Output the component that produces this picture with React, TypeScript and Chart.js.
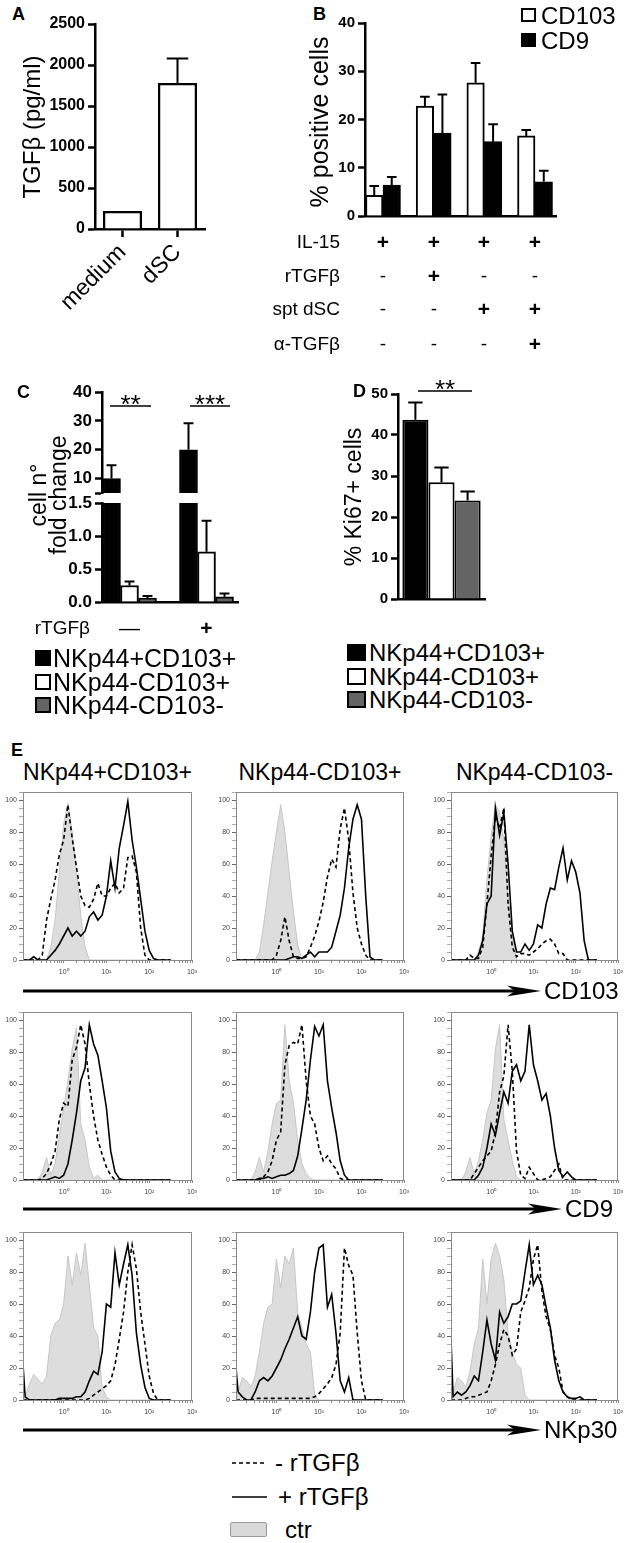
import React, { FC, useEffect, useRef } from "react";
import Chart from "chart.js/auto";

const FONT = '"Liberation Sans", Arial, Helvetica, sans-serif';
Chart.defaults.font.family = FONT;
Chart.defaults.color = "#000";

// ---------- panel A : TGFb in supernatant
const A_CATEGORIES = ["medium", "dSC"];
const A_TGFB = [220, 1780];
const A_TGFB_ERR = [0, 300];
const A_TICKS = [0, 500, 1000, 1500, 2000, 2500];

// ---------- panel B : % positive cells
const B_CONDITIONS = [0, 1, 2, 3];
const B_CD103 = [4.3, 22.8, 27.6, 16.6];
const B_CD103_ERR = [1.9, 1.9, 4.1, 1.2];
const B_CD9 = [6.4, 17.2, 15.4, 7.1];
const B_CD9_ERR = [1.7, 8.0, 3.6, 2.3];
const B_TICKS = [0, 10, 20, 30, 40];
const B_ROW_LABELS = ["IL-15", "rTGFβ", "spt dSC", "α-TGFβ"];
const B_ROW_SIGNS = [
  ["+", "+", "+", "+"],
  ["-", "+", "-", "-"],
  ["-", "-", "+", "+"],
  ["-", "-", "-", "+"],
];

// ---------- panels C and D : NK subsets
const SUBSETS = ["NKp44+CD103+", "NKp44-CD103+", "NKp44-CD103-"];
const SUBSET_COLORS = ["#000000", "#ffffff", "#646464"];
const C_TREATMENT = ["—", "+"];
const C_DP = [10, 20];
const C_DP_ERR = [4.6, 9.2];
const C_SP = [0.25, 0.76];
const C_SP_ERR = [0.06, 0.47];
const C_DN = [0.06, 0.08];
const C_DN_ERR = [0.03, 0.05];
const C_UPPER_TICKS = [5, 10, 20, 30, 40];
const C_LOWER_TICKS = [0, 0.5, 1, 1.5];
const D_KI67 = [43.7, 28.5, 24.0];
const D_KI67_ERR = [4.2, 3.6, 2.2];
const D_TICKS = [0, 10, 20, 30, 40, 50];

// ---------- panel E : histograms (log10 of fluorescence, % of max)
const E_SUBSETS = ["NKp44+CD103+", "NKp44-CD103+", "NKp44-CD103-"];
const E_MARKERS = ["CD103", "CD9", "NKp30"];
const LOG_X = [-0.95, -0.9, -0.8, -0.7, -0.6, -0.5, -0.4, -0.3, -0.2, -0.1, 0, 0.1, 0.2, 0.3, 0.4, 0.5, 0.6, 0.7, 0.8, 0.9, 1, 1.1, 1.2, 1.3, 1.4, 1.5, 1.6, 1.7, 1.8, 1.9, 2, 2.1, 2.2, 2.3, 2.4, 2.5];
const DECADES = [1, 10, 100, 1000];
const DECADE_LABELS = ["10⁰", "10¹", "10²", "10³"];
const HIST_X_TICKS = [0.2, 0.3, 0.4, 0.5, 0.6, 0.7, 0.8, 0.9, 1, 2, 3, 4, 5, 6, 7, 8, 9, 10, 20, 30, 40, 50, 60, 70, 80, 90, 100, 200, 300, 400, 500, 600, 700, 800, 900, 1000];
const HIST_Y_TICKS = [0, 5, 10, 15, 20, 25, 30, 35, 40, 45, 50, 55, 60, 65, 70, 75, 80, 85, 90, 95, 100, 105];

const H11_CTR = [0, 0, 0, 0, 0, 0, 0, 8, 25, 55, 85, 98, 80, 55, 28, 8, 0, 0, 0, 0, 0, 0, 0, 0, 0, 0, 0, 0, 0, 0, 0, 0, 0, 0, 0, 0];
const H11_MINUS = [0, 0, 0, 0, 0, 3, 25, 38, 50, 66, 75, 97, 76, 58, 40, 34, 33, 38, 48, 40, 40, 45, 48, 42, 45, 64, 65, 55, 20, 3, 0, 0, 0, 0, 0, 0];
const H11_PLUS = [0, 0, 0, 2, 0, 0, 0, 3, 6, 10, 15, 20, 15, 18, 15, 18, 27, 30, 25, 28, 40, 62, 45, 70, 84, 99, 75, 58, 38, 18, 6, 1, 0, 0, 0, 0];

const H12_CTR = [0, 0, 0, 0, 0, 0, 5, 22, 42, 62, 80, 97, 80, 55, 30, 10, 0, 0, 0, 0, 0, 0, 0, 0, 0, 0, 0, 0, 0, 0, 0, 0, 0, 0, 0, 0];
const H12_MINUS = [0, 0, 0, 0, 0, 0, 0, 0, 0, 0, 3, 12, 27, 12, 2, 1, 1, 2, 8, 15, 24, 36, 52, 63, 58, 82, 95, 75, 42, 20, 10, 3, 0, 0, 0, 0];
const H12_PLUS = [0, 0, 0, 0, 0, 0, 0, 0, 0, 0, 0, 0, 0, 1, 2, 2, 1, 3, 5, 2, 5, 5, 5, 8, 18, 28, 45, 70, 88, 97, 88, 40, 2, 0, 0, 0];

const H13_CTR = [0, 0, 0, 0, 0, 0, 0, 5, 15, 50, 78, 97, 92, 75, 40, 15, 0, 0, 0, 0, 0, 0, 0, 0, 0, 0, 0, 0, 0, 0, 0, 0, 0, 0, 0, 0];
const H13_MINUS = [0, 0, 0, 0, 0, 3, 1, 1, 8, 35, 65, 90, 82, 95, 35, 8, 2, 4, 4, 3, 5, 7, 10, 12, 13, 10, 4, 4, 0, 0, 0, 0, 0, 0, 0, 0];
const H13_PLUS = [0, 0, 0, 0, 0, 0, 0, 3, 12, 35, 40, 95, 78, 92, 60, 18, 5, 5, 10, 6, 10, 22, 20, 35, 45, 44, 58, 70, 50, 62, 55, 42, 12, 0, 0, 0];

const H21_CTR = [0, 0, 0, 0, 0, 5, 14, 3, 10, 28, 45, 62, 82, 95, 35, 25, 8, 1, 3, 0, 0, 0, 0, 0, 0, 0, 0, 0, 0, 0, 0, 0, 0, 0, 0, 0];
const H21_MINUS = [0, 0, 0, 0, 0, 1, 4, 10, 18, 38, 48, 46, 75, 83, 97, 85, 60, 40, 25, 16, 8, 3, 0, 0, 0, 0, 0, 0, 0, 0, 0, 0, 0, 0, 0, 0];
const H21_PLUS = [0, 0, 0, 0, 0, 0, 0, 1, 2, 1, 3, 10, 25, 42, 62, 70, 97, 85, 78, 62, 45, 18, 5, 1, 0, 0, 0, 0, 0, 0, 0, 0, 0, 0, 0, 0];

const H22_CTR = [0, 0, 0, 0, 0, 5, 14, 5, 18, 35, 48, 50, 97, 62, 48, 25, 10, 4, 1, 0, 0, 0, 0, 0, 0, 0, 0, 0, 0, 0, 0, 0, 0, 0, 0, 0];
const H22_MINUS = [0, 0, 0, 0, 0, 0, 0, 2, 5, 12, 25, 30, 72, 84, 86, 85, 97, 62, 40, 35, 20, 12, 15, 10, 7, 1, 0, 0, 0, 0, 0, 0, 0, 0, 0, 0];
const H22_PLUS = [0, 0, 0, 0, 0, 0, 1, 1, 2, 1, 2, 3, 3, 4, 6, 15, 32, 50, 75, 96, 90, 97, 62, 45, 30, 12, 3, 0, 0, 0, 0, 0, 0, 0, 0, 0];

const H23_CTR = [0, 0, 0, 0, 5, 14, 3, 12, 25, 42, 50, 82, 97, 38, 25, 12, 2, 0, 0, 0, 0, 0, 0, 0, 0, 0, 0, 0, 0, 0, 0, 0, 0, 0, 0, 0];
const H23_MINUS = [0, 0, 0, 0, 0, 0, 4, 8, 12, 15, 18, 30, 55, 65, 97, 68, 18, 3, 1, 8, 4, 0, 0, 1, 2, 6, 10, 0, 0, 0, 0, 0, 0, 0, 0, 0];
const H23_PLUS = [0, 0, 0, 0, 0, 0, 0, 3, 8, 20, 35, 28, 42, 55, 48, 68, 72, 62, 68, 97, 72, 62, 50, 54, 40, 20, 6, 2, 5, 2, 0, 0, 0, 0, 0, 0];

const H31_CTR = [0, 2, 10, 16, 13, 10, 15, 40, 48, 50, 60, 90, 72, 92, 78, 98, 72, 45, 40, 8, 2, 0, 0, 0, 0, 0, 0, 0, 0, 0, 0, 0, 0, 0, 0, 0];
const H31_MINUS = [0, 0, 0, 0, 0, 0, 0, 0, 0, 0, 0, 0, 0, 0, 0, 0, 1, 3, 5, 7, 9, 12, 22, 38, 55, 80, 97, 82, 55, 35, 15, 4, 0, 0, 0, 0];
const H31_PLUS = [22, 2, 0, 0, 0, 0, 0, 0, 0, 1, 1, 1, 1, 2, 2, 5, 12, 18, 16, 30, 60, 58, 92, 72, 85, 97, 78, 42, 22, 8, 1, 0, 0, 0, 0, 0];

const H32_CTR = [0, 5, 14, 12, 8, 15, 30, 48, 58, 60, 88, 70, 90, 85, 95, 55, 45, 35, 30, 3, 0, 0, 0, 0, 0, 0, 0, 0, 0, 0, 0, 0, 0, 0, 0, 0];
const H32_MINUS = [0, 0, 0, 0, 0, 1, 1, 1, 1, 1, 1, 1, 1, 1, 1, 1, 1, 1, 1, 2, 4, 7, 10, 14, 22, 42, 95, 84, 78, 42, 12, 0, 0, 0, 0, 0];
const H32_PLUS = [20, 5, 2, 0, 0, 5, 12, 14, 12, 15, 20, 25, 32, 38, 45, 52, 40, 38, 55, 80, 95, 97, 58, 66, 42, 12, 5, 14, 0, 0, 0, 0, 0, 0, 0, 0];

const H33_CTR = [0, 5, 14, 12, 8, 18, 35, 45, 88, 60, 88, 98, 90, 75, 42, 30, 22, 20, 3, 0, 0, 0, 0, 0, 0, 0, 0, 0, 0, 0, 0, 0, 0, 0, 0, 0];
const H33_MINUS = [0, 0, 0, 0, 1, 2, 2, 3, 4, 5, 12, 22, 35, 44, 40, 28, 32, 55, 62, 70, 88, 97, 68, 52, 44, 28, 20, 5, 2, 0, 0, 0, 0, 0, 0, 0];
const H33_PLUS = [38, 2, 5, 3, 5, 9, 15, 12, 30, 50, 35, 25, 55, 48, 52, 60, 60, 62, 80, 97, 72, 78, 72, 58, 45, 25, 12, 5, 2, 1, 1, 2, 0, 0, 0, 0];

const HISTS = [
  [
    { ctr: H11_CTR, minus: H11_MINUS, plus: H11_PLUS },
    { ctr: H12_CTR, minus: H12_MINUS, plus: H12_PLUS },
    { ctr: H13_CTR, minus: H13_MINUS, plus: H13_PLUS },
  ],
  [
    { ctr: H21_CTR, minus: H21_MINUS, plus: H21_PLUS },
    { ctr: H22_CTR, minus: H22_MINUS, plus: H22_PLUS },
    { ctr: H23_CTR, minus: H23_MINUS, plus: H23_PLUS },
  ],
  [
    { ctr: H31_CTR, minus: H31_MINUS, plus: H31_PLUS },
    { ctr: H32_CTR, minus: H32_MINUS, plus: H32_PLUS },
    { ctr: H33_CTR, minus: H33_MINUS, plus: H33_PLUS },
  ],
];

// ---------- layout (pixels)
const B_CENTERS = [383, 434, 484, 535];
const B_ROW_Y = [241, 275, 308, 343];
const C_CENTERS = [129.5, 206.5];
const C_LEGEND_Y = [658, 682, 705];
const D_LEGEND_Y = [653, 677, 700];
const HIST_CANVAS_LEFT = [0, 213, 428];
const HIST_BOX_LEFT = [23, 236, 451];
const HIST_BOX_RIGHT = [192, 404, 618];
const HIST_ROW_TOP = [792, 1012, 1232];
const HIST_BOX_H = 168;
const ARROW_Y = [991, 1209, 1430];
const ARROW_TIP = [541, 562, 541];

// keep a scale at a fixed thickness so chart areas land where they should
const fixSize = (size: number) => (scale: any) => {
  if (scale.isHorizontal()) scale.height = size;
  else scale.width = size;
  scale.paddingTop = 0;
  scale.paddingBottom = 0;
  scale.paddingLeft = 0;
  scale.paddingRight = 0;
};

const fixedTicks = (values: number[]) => (scale: any) => {
  scale.ticks = values.map((value) => ({ value }));
};

const errorBarPlugin = {
  id: "errorBars",
  afterDatasetsDraw(chart: any) {
    const { ctx, chartArea } = chart;
    ctx.save();
    ctx.beginPath();
    ctx.rect(chartArea.left - 30, chartArea.top, chartArea.width + 60, chartArea.height);
    ctx.clip();
    ctx.strokeStyle = "#000";
    ctx.lineWidth = 2;
    chart.data.datasets.forEach((ds: any, di: number) => {
      if (!ds.errors) return;
      const meta = chart.getDatasetMeta(di);
      const yScale = meta.vScale;
      meta.data.forEach((bar: any, i: number) => {
        const err = ds.errors[i];
        if (!err) return;
        const raw = ds.data[i];
        const v = typeof raw === "number" ? raw : raw.y;
        const yTop = yScale.getPixelForValue(v + err);
        const cap = (bar.width * 0.55) / 2;
        ctx.beginPath();
        ctx.moveTo(bar.x, bar.y);
        ctx.lineTo(bar.x, yTop);
        ctx.moveTo(bar.x - cap, yTop);
        ctx.lineTo(bar.x + cap, yTop);
        ctx.stroke();
      });
    });
    ctx.restore();
  },
};

const framePlugin = {
  id: "frame",
  afterDraw(chart: any) {
    const { ctx, chartArea: a } = chart;
    ctx.save();
    ctx.strokeStyle = "#8a8a8a";
    ctx.lineWidth = 1;
    ctx.strokeRect(a.left + 0.5, a.top + 0.5, a.width - 1, a.height);
    ctx.restore();
  },
};

const baseOptions = (padding: any) => ({
  responsive: false,
  animation: false,
  layout: { padding: { left: 0, top: 0, right: 0, bottom: 0, ...padding } },
  plugins: { legend: { display: false }, tooltip: { enabled: false } },
});

const yBarAxis = (ticks: number[], width: number, fontSize: number, label = (v: number) => String(v)) => ({
  type: "linear",
  min: ticks[0],
  max: ticks[ticks.length - 1],
  afterBuildTicks: fixedTicks(ticks),
  afterFit: fixSize(width),
  ticks: { autoSkip: false, padding: 3, color: "#000", font: { size: fontSize, weight: "bold" }, callback: (v: any) => label(Number(v)) },
  grid: { drawOnChartArea: false, tickLength: 7, tickWidth: 2.5, tickColor: "#000" },
  border: { color: "#000", width: 2.5 },
});

const xLinearAxis = (min: number, max: number, height: number, display = true) => ({
  type: "linear",
  display,
  min,
  max,
  offset: false,
  afterFit: fixSize(height),
  ticks: { display: false },
  grid: { display: false },
  border: { color: "#000", width: 2.5 },
});

const panelA = () => ({
  type: "bar",
  data: {
    labels: A_CATEGORIES,
    datasets: [
      { data: A_TGFB, errors: A_TGFB_ERR, backgroundColor: "#fff", borderColor: "#000", borderWidth: 2.5, barPercentage: 0.71, categoryPercentage: 1 },
    ],
  },
  options: {
    ...baseOptions({ top: 24, right: 10 }),
    scales: {
      x: {
        afterFit: fixSize(91),
        ticks: { color: "#000", font: { size: 23 }, minRotation: 45, maxRotation: 45, padding: 2 },
        grid: { drawOnChartArea: false, offset: false, tickLength: 8, tickWidth: 2.5, tickColor: "#000" },
        border: { color: "#000", width: 2.5 },
      },
      y: yBarAxis(A_TICKS, 95, 16),
    },
  },
  plugins: [errorBarPlugin],
});

const panelB = () => ({
  type: "bar",
  data: {
    datasets: [
      { label: "CD103", data: B_CD103.map((y, i) => ({ x: B_CONDITIONS[i], y })), errors: B_CD103_ERR, backgroundColor: "#fff" },
      { label: "CD9", data: B_CD9.map((y, i) => ({ x: B_CONDITIONS[i], y })), errors: B_CD9_ERR, backgroundColor: "#000" },
    ].map((ds) => ({ ...ds, borderColor: "#000", borderWidth: 2, barThickness: 17.5 })),
  },
  options: {
    ...baseOptions({ top: 23, right: 14 }),
    scales: { x: xLinearAxis(-0.355, 3.414, 16), y: yBarAxis(B_TICKS, 65, 15) },
  },
  plugins: [errorBarPlugin],
});

const cDatasets = () =>
  [
    { label: SUBSETS[0], values: C_DP, errors: C_DP_ERR, backgroundColor: SUBSET_COLORS[0] },
    { label: SUBSETS[1], values: C_SP, errors: C_SP_ERR, backgroundColor: SUBSET_COLORS[1] },
    { label: SUBSETS[2], values: C_DN, errors: C_DN_ERR, backgroundColor: SUBSET_COLORS[2] },
  ].map(({ values, ...ds }) => ({
    ...ds,
    data: values.map((y, i) => ({ x: i, y })),
    borderColor: "#000",
    borderWidth: 2,
    barThickness: 18,
    clip: 0,
  }));

const panelCUpper = () => ({
  type: "bar",
  data: { datasets: cDatasets() },
  options: {
    ...baseOptions({ top: 12, right: 12, bottom: 2 }),
    scales: {
      x: xLinearAxis(-0.357, 1.409, 0, false),
      y: yBarAxis(C_UPPER_TICKS, 72, 17, (v) => (v === 5 ? "" : String(v))),
    },
  },
  plugins: [errorBarPlugin],
});

const panelCLower = () => ({
  type: "bar",
  data: { datasets: cDatasets() },
  options: {
    ...baseOptions({ top: 8, right: 12 }),
    scales: {
      x: xLinearAxis(-0.357, 1.409, 8),
      y: yBarAxis(C_LOWER_TICKS, 72, 17, (v) => v.toFixed(1)),
    },
  },
  plugins: [errorBarPlugin],
});

const panelD = () => ({
  type: "bar",
  data: {
    labels: [""],
    datasets: SUBSETS.map((label, i) => ({
      label,
      data: [D_KI67[i]],
      errors: [D_KI67_ERR[i]],
      backgroundColor: SUBSET_COLORS[i],
      borderColor: "#000",
      borderWidth: 2,
      barPercentage: 1,
      categoryPercentage: 0.9,
    })),
  },
  options: {
    ...baseOptions({ top: 14, right: 15 }),
    scales: {
      x: { afterFit: fixSize(11), ticks: { display: false }, grid: { display: false }, border: { color: "#000", width: 2.5 } },
      y: yBarAxis(D_TICKS, 68, 15),
    },
  },
  plugins: [errorBarPlugin],
});

const toPoints = (ys: number[]) => LOG_X.map((e, i) => ({ x: Math.pow(10, e), y: ys[i] }));

const decadeLabel = (v: number) => {
  const i = DECADES.findIndex((d) => Math.abs(d - v) < 1e-6 * d);
  return i >= 0 ? DECADE_LABELS[i] : "";
};

const histogram = (h: { ctr: number[]; minus: number[]; plus: number[] }, yWidth: number) => () => ({
  type: "line",
  data: {
    datasets: [
      { label: "+ rTGFβ", data: toPoints(h.plus), borderColor: "#000", borderWidth: 1.6, order: 1 },
      { label: "- rTGFβ", data: toPoints(h.minus), borderColor: "#000", borderWidth: 1.6, borderDash: [4, 3], order: 2 },
      { label: "ctr", data: toPoints(h.ctr), borderColor: "#c6c6c6", backgroundColor: "#dddddd", borderWidth: 1, fill: "origin", order: 3 },
    ],
  },
  options: {
    ...baseOptions({ top: 8, right: 9 }),
    elements: { point: { radius: 0 }, line: { tension: 0 } },
    scales: {
      x: {
        type: "logarithmic",
        min: Math.pow(10, LOG_X[0]),
        max: 1000,
        afterBuildTicks: fixedTicks(HIST_X_TICKS),
        afterFit: fixSize(22),
        ticks: { autoSkip: false, maxRotation: 0, padding: 5, color: "#444", font: { size: 7 }, callback: (v: any) => decadeLabel(Number(v)) },
        grid: { drawOnChartArea: false, tickLength: 3, tickWidth: 1, tickColor: "#888" },
        border: { color: "#8a8a8a", width: 1 },
      },
      y: {
        min: 0,
        max: 105,
        afterBuildTicks: fixedTicks(HIST_Y_TICKS),
        afterFit: fixSize(yWidth),
        ticks: { autoSkip: false, padding: 2, color: "#444", font: { size: 7 }, callback: (v: any) => (Number(v) % 20 === 0 ? String(v) : "") },
        grid: {
          drawOnChartArea: false,
          tickLength: 4,
          tickWidth: 1,
          tickColor: (c: any) => (c.tick && c.tick.value % 20 === 0 ? "#666" : "#aaa"),
        },
        border: { color: "#8a8a8a", width: 1 },
      },
    },
  },
  plugins: [framePlugin],
});

const ChartCanvas: FC<{ x: number; y: number; w: number; h: number; make: () => any }> = ({ x, y, w, h, make }) => {
  const ref = useRef<HTMLCanvasElement>(null);
  useEffect(() => {
    if (!ref.current) return;
    const chart = new Chart(ref.current, make());
    return () => chart.destroy();
  }, []);
  return <canvas ref={ref} width={w} height={h} style={{ position: "absolute", left: x, top: y, width: w, height: h }} />;
};

type LabelProps = {
  x: number;
  y: number;
  size: number;
  children: React.ReactNode;
  align?: "left" | "center" | "right";
  bold?: boolean;
  rotate?: boolean;
  lineHeight?: number;
};

const Label: FC<LabelProps> = ({ x, y, size, children, align = "left", bold, rotate, lineHeight = 1 }) => {
  const tx = align === "left" ? "0" : align === "center" ? "-50%" : "-100%";
  return (
    <div
      style={{
        position: "absolute",
        left: x,
        top: y,
        fontSize: size,
        fontWeight: bold ? "bold" : "normal",
        lineHeight,
        whiteSpace: "pre",
        textAlign: "center",
        transform: `translate(${tx}, -50%)${rotate ? " rotate(-90deg)" : ""}`,
      }}
    >
      {children}
    </div>
  );
};

const Swatch: FC<{ x: number; y: number; w: number; h: number; color: string }> = ({ x, y, w, h, color }) => (
  <div style={{ position: "absolute", left: x, top: y, width: w, height: h, background: color, border: "2px solid #000", boxSizing: "border-box" }} />
);

const App: FC = () => (
  <div style={{ position: "absolute", left: 0, top: 0, width: 629, height: 1543, background: "#fff", fontFamily: FONT, color: "#000", overflow: "hidden" }}>
    {/* A */}
    <Label x={12} y={14} size={18} bold>A</Label>
    <ChartCanvas x={0} y={0} w={215} h={320} make={panelA} />
    <Label x={32} y={127} size={24} align="center" rotate>TGFβ (pg/ml)</Label>

    {/* B */}
    <Label x={313} y={14} size={18} bold>B</Label>
    <ChartCanvas x={300} y={0} w={270} h={232} make={panelB} />
    <Label x={319} y={122} size={25} align="center" rotate>% positive cells</Label>
    <Swatch x={521} y={8} w={15} h={14} color="#fff" />
    <Label x={541} y={16} size={24}>CD103</Label>
    <Swatch x={521} y={33} w={15} h={14} color="#000" />
    <Label x={541} y={41} size={24}>CD9</Label>
    {B_ROW_LABELS.map((label, r) => (
      <React.Fragment key={label}>
        <Label x={340} y={B_ROW_Y[r]} size={19} align="right">{label}</Label>
        {B_ROW_SIGNS[r].map((s, c) => (
          <Label key={c} x={B_CENTERS[c]} y={B_ROW_Y[r]} size={s === "+" ? 21 : 19} bold={s === "+"} align="center">{s}</Label>
        ))}
      </React.Fragment>
    ))}

    {/* C : broken y axis drawn as two stacked charts */}
    <Label x={17} y={392} size={18} bold>C</Label>
    <ChartCanvas x={30} y={380} w={220} h={115} make={panelCUpper} />
    <ChartCanvas x={30} y={495} w={220} h={115} make={panelCLower} />
    <Label x={49} y={495} size={23} align="center" rotate lineHeight={0.85}>{"cell n°\nfold change"}</Label>
    <Label x={130.5} y={404} size={26} align="center">**</Label>
    <Label x={210} y={404} size={26} align="center">***</Label>
    <Label x={90} y={627} size={19} align="right">rTGFβ</Label>
    {C_TREATMENT.map((t, i) => (
      <Label key={i} x={C_CENTERS[i]} y={627} size={21} bold={t === "+"} align="center">{t}</Label>
    ))}
    {SUBSETS.map((s, i) => (
      <React.Fragment key={"c" + s}>
        <Swatch x={35} y={C_LEGEND_Y[i] - 8} w={16} h={16} color={SUBSET_COLORS[i]} />
        <Label x={53} y={C_LEGEND_Y[i]} size={25}>{s}</Label>
      </React.Fragment>
    ))}

    {/* D */}
    <Label x={353} y={391} size={18} bold>D</Label>
    <ChartCanvas x={330} y={380} w={170} h={230} make={panelD} />
    <Label x={353} y={497} size={23} align="center" rotate>% Ki67+ cells</Label>
    <Label x={445} y={389} size={26} align="center">**</Label>
    {SUBSETS.map((s, i) => (
      <React.Fragment key={"d" + s}>
        <Swatch x={347} y={D_LEGEND_Y[i] - 9} w={19} h={17} color={SUBSET_COLORS[i]} />
        <Label x={369} y={D_LEGEND_Y[i]} size={24}>{s}</Label>
      </React.Fragment>
    ))}

    {/* E */}
    <Label x={11} y={750} size={18} bold>E</Label>
    {E_SUBSETS.map((s, c) => (
      <Label key={s} x={(HIST_BOX_LEFT[c] + HIST_BOX_RIGHT[c]) / 2} y={772} size={23} align="center">{s}</Label>
    ))}
    {HISTS.map((row, r) =>
      row.map((h, c) => (
        <ChartCanvas
          key={`h${r}${c}`}
          x={HIST_CANVAS_LEFT[c]}
          y={HIST_ROW_TOP[r] - 8}
          w={HIST_BOX_RIGHT[c] - HIST_CANVAS_LEFT[c] + 9}
          h={8 + HIST_BOX_H + 22}
          make={histogram(h, HIST_BOX_LEFT[c] - HIST_CANVAS_LEFT[c])}
        />
      ))
    )}
    {E_MARKERS.map((m, r) => (
      <Label key={m} x={ARROW_TIP[r] + 3} y={ARROW_Y[r]} size={24}>{m}</Label>
    ))}
    <Label x={275} y={1463} size={24}>- rTGFβ</Label>
    <Label x={278} y={1497} size={24}>+ rTGFβ</Label>
    <div style={{ position: "absolute", left: 230, top: 1522, width: 37, height: 15, background: "#d9d9d9", border: "1px solid #999", borderRadius: 2, boxSizing: "border-box" }} />
    <Label x={285} y={1530} size={24}>ctr</Label>

    <svg width={629} height={1543} style={{ position: "absolute", left: 0, top: 0, pointerEvents: "none" }}>
      <line x1={110} y1={406} x2={151} y2={406} stroke="#000" strokeWidth={1.5} />
      <line x1={190} y1={406} x2={230} y2={406} stroke="#000" strokeWidth={1.5} />
      <line x1={418} y1={391} x2={472} y2={391} stroke="#000" strokeWidth={1.5} />
      {ARROW_Y.map((y, r) => (
        <g key={r}>
          <line x1={23} y1={y} x2={ARROW_TIP[r] - 24} y2={y} stroke="#000" strokeWidth={3} />
          <polygon
            points={`${ARROW_TIP[r] - 34},${y - 5.5} ${ARROW_TIP[r]},${y} ${ARROW_TIP[r] - 34},${y + 5.5} ${ARROW_TIP[r] - 26},${y}`}
            fill="#000"
          />
        </g>
      ))}
      <line x1={232} y1={1463} x2={267} y2={1463} stroke="#000" strokeWidth={1.6} strokeDasharray="4 3" />
      <line x1={232} y1={1497} x2={267} y2={1497} stroke="#000" strokeWidth={1.6} />
    </svg>
  </div>
);

export default App;
